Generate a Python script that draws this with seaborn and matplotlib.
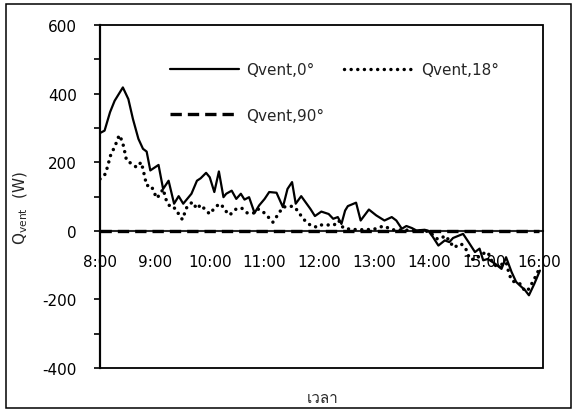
import numpy as np
import pandas as pd
import seaborn as sns
import matplotlib
matplotlib.use("Agg")
import matplotlib.pyplot as plt
from matplotlib import font_manager
from matplotlib.ft2font import FT2Font
from matplotlib.patches import Rectangle
from matplotlib.ticker import MultipleLocator, FixedLocator, FuncFormatter

# ---- data -------------------------------------------------------------
# Qvent at 0 degrees (W), time of day
t_q0 = ["8:00", "8:05", "8:11", "8:16", "8:25", "8:31", "8:36", "8:42", "8:47", "8:51",
        "8:55", "9:04", "9:09", "9:15", "9:21", "9:26", "9:31", "9:40", "9:46", "9:50",
        "9:56", "10:00", "10:05", "10:10", "10:15", "10:18", "10:24", "10:29", "10:34", "10:38",
        "10:43", "10:49", "10:54", "11:00", "11:05", "11:13", "11:20", "11:25", "11:30", "11:34",
        "11:40", "11:50", "11:55", "12:02", "12:10", "12:15", "12:20", "12:24", "12:28", "12:31",
        "12:40", "12:45", "12:54", "13:02", "13:11", "13:19", "13:24", "13:30", "13:35", "13:41",
        "13:46", "13:55", "13:59", "14:04", "14:10", "14:17", "14:22", "14:26", "14:37", "14:43",
        "14:50", "14:55", "14:59", "15:04", "15:12", "15:19", "15:24", "15:30", "15:35", "15:41",
        "15:45", "15:49", "15:55", "16:01"]
q0 = [285, 292, 346, 379, 418, 384, 326, 268, 239, 231,
      176, 192, 122, 146, 79, 101, 79, 108, 146, 153,
      169, 156, 113, 173, 98, 108, 117, 93, 108, 91,
      98, 52, 74, 93, 113, 111, 69, 122, 142, 79,
      101, 64, 43, 56, 49, 35, 40, 20, 59, 72,
      82, 30, 62, 45, 30, 40, 30, 6, 14, 8,
      1, 3, 0, -18, -43, -28, -33, -21, -9, -33,
      -62, -52, -86, -82, -96, -111, -77, -120, -149, -164,
      -174, -188, -154, -116]

# Qvent at 18 degrees (W)
t_q18 = ["8:00", "8:02", "8:06", "8:08", "8:12", "8:16", "8:21", "8:24", "8:26", "8:29",
         "8:35", "8:40", "8:45", "8:47", "8:51", "8:56", "8:59", "9:02", "9:06", "9:09",
         "9:13", "9:18", "9:22", "9:26", "9:30", "9:35", "9:41", "9:46", "9:50", "9:56",
         "10:00", "10:06", "10:11", "10:16", "10:20", "10:23", "10:29", "10:35", "10:41", "10:48",
         "10:52", "10:57", "11:04", "11:09", "11:14", "11:20", "11:28", "11:33", "11:39", "11:44",
         "11:51", "11:57", "12:00", "12:10", "12:16", "12:21", "12:26", "12:35", "12:50", "13:00",
         "13:10", "13:20", "13:35", "13:50", "14:00", "14:08", "14:13", "14:17", "14:23", "14:26",
         "14:32", "14:35", "14:41", "14:44", "14:50", "14:58", "15:04", "15:08", "15:12", "15:17",
         "15:24", "15:27", "15:30", "15:35", "15:39", "15:42", "15:46", "15:49", "15:55", "15:59"]
q18 = [151, 156, 166, 185, 224, 244, 279, 263, 244, 205,
       195, 185, 200, 180, 132, 132, 113, 95, 108, 122,
       84, 66, 66, 49, 33, 69, 84, 64, 76, 59,
       49, 69, 79, 66, 47, 49, 64, 66, 52, 52,
       64, 59, 40, 25, 45, 69, 72, 69, 47, 30,
       14, 11, 17, 17, 17, 30, 8, 4, 3, 5,
       14, 3, 2, 0, -2, -23, -23, -14, -31, -48,
       -43, -38, -57, -82, -84, -67, -62, -86, -101, -101,
       -91, -122, -145, -151, -154, -167, -177, -169, -140, -118]

# Qvent at 90 degrees (W)
t_q90 = ["8:00", "16:00"]
q90 = [0, 0]

labels = ["Qvent,0°", "Qvent,18°", "Qvent,90°"]
hour_ticks = list(range(8, 17))
minor_y = [-300, 100, 300, 500]


def to_hours(clock):
    return [int(c.split(":")[0]) + int(c.split(":")[1]) / 60 for c in clock]


def thai_family():
    """Return an installed family that can draw Thai text."""
    for f in font_manager.fontManager.ttflist:
        try:
            if 0x0E40 in FT2Font(f.fname).get_charmap():
                return f.name
        except Exception:
            continue
    return "DejaVu Sans"


# ---- style ------------------------------------------------------------
sns.set_theme(style="white")
plt.rcParams["font.family"] = ["DejaVu Sans"]
plt.rcParams["axes.linewidth"] = 1.3
plt.rcParams["axes.unicode_minus"] = False

fig = plt.figure(figsize=(5.77, 4.14), dpi=100)
ax = fig.add_axes([100 / 577, 45 / 414, 443 / 577, 343 / 414])

df0 = pd.DataFrame({"t": to_hours(t_q0), "q": q0})
df18 = pd.DataFrame({"t": to_hours(t_q18), "q": q18})
df90 = pd.DataFrame({"t": to_hours(t_q90), "q": q90})

sns.lineplot(data=df0, x="t", y="q", ax=ax, color="black", lw=1.6,
             sort=False, label=labels[0], zorder=3)
sns.lineplot(data=df18, x="t", y="q", ax=ax, color="black", lw=2.5,
             linestyle=(0, (0.01, 1.9)), dash_capstyle="round",
             sort=False, label=labels[1], zorder=3)
sns.lineplot(data=df90, x="t", y="q", ax=ax, color="black", lw=2.4,
             linestyle=(0, (3.4, 1.8)), sort=False, label=labels[2], zorder=4)

# ---- axes -------------------------------------------------------------
ax.set_xlim(8, 16.073)
ax.set_ylim(-400, 600)
ax.yaxis.set_major_locator(MultipleLocator(200))
ax.yaxis.set_minor_locator(FixedLocator(minor_y))
ax.set_xticks(hour_ticks)
ax.xaxis.set_major_formatter(FuncFormatter(lambda v, p: f"{int(round(v))}:00"))

ax.spines["bottom"].set_position(("data", 0))
ax.spines["bottom"].set_linewidth(1.5)
ax.spines["left"].set_linewidth(1.6)
for s in ("top", "right"):
    ax.spines[s].set_visible(False)
ax.add_patch(Rectangle((0, 0), 1, 1, transform=ax.transAxes, fill=False,
                       edgecolor="black", lw=1.3, clip_on=False, zorder=5))

ax.tick_params(axis="x", which="major", direction="out", length=5, width=1.2,
               pad=12, labelsize=11, colors="black")
ax.tick_params(axis="y", which="both", direction="out", length=4.5, width=1.2,
               pad=12, labelsize=11, colors="black", left=True)
ax.tick_params(axis="y", which="minor", left=True)

ax.set_xlabel("เวลา", fontsize=11, family=[thai_family(), "DejaVu Sans"])
ax.xaxis.set_label_coords(0.503, -0.067)
ax.set_ylabel(r"Q$_{\mathregular{vent}}$  (W)", fontsize=11)
ax.yaxis.set_label_coords(-0.158, 0.47)

# legend: row 1 -> 0° and 18°, row 2 -> 90°
h, l = ax.get_legend_handles_labels()
order = [0, 2, 1]
ax.legend([h[i] for i in order], [l[i] for i in order], ncol=2, frameon=False,
          loc="upper left", bbox_to_anchor=(0.141, 0.914), borderpad=0,
          handlelength=4.5, handletextpad=0.5, columnspacing=1.3,
          labelspacing=2.0, fontsize=11)

# outer frame around the figure
fig.patches.append(Rectangle((6 / 577, 5 / 414), 565 / 577, 404 / 414,
                             transform=fig.transFigure, fill=False,
                             edgecolor="black", lw=1.1))

fig.savefig("out.png", dpi=100)
